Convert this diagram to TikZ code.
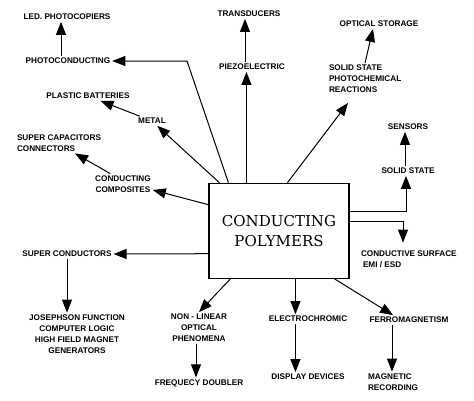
\documentclass[tikz,border=0pt]{standalone}
\usepackage{fontspec}
\newfontfamily\lblfont{Liberation Sans}
\newfontfamily\corefont{DejaVu Serif}
\usetikzlibrary{arrows.meta}

\begin{document}
\begin{tikzpicture}[x=1pt, y=-1pt, ->, >={Triangle[length=13pt,width=10pt]}, line width=1pt,
	lbl/.style={font=\lblfont\bfseries\fontsize{8.2}{11}\selectfont, align=center, inner sep=1.5pt},
	core/.style={draw, line width=1.1pt, minimum width=140pt, minimum height=95pt, inner sep=0pt, align=center, font=\corefont\fontsize{15}{20}\selectfont}]
		
		\useasboundingbox (0,0) rectangle (474,400);
		
		\node[core] (box) at (279,230.75) {CONDUCTING\\POLYMERS};
		
		\node[lbl] (led) at (67,17) {LED. PHOTOCOPIERS};
		\node[lbl] (photo) at (68,61) {PHOTOCONDUCTING};
		\node[lbl] (plastic) at (88,96) {PLASTIC BATTERIES};
		\node[lbl] (metal) at (152,121) {METAL};
		\node[lbl, align=left, anchor=west] (supcap) at (15,143) {SUPER CAPACITORS\\CONNECTORS};
		\node[lbl] (comp) at (123,184) {CONDUCTING\\COMPOSITES};
		\node[lbl] (supcond) at (67,254) {SUPER CONDUCTORS};
		\node[lbl] (joseph) at (77,334) {JOSEPHSON FUNCTION\\COMPUTER LOGIC\\HIGH FIELD MAGNET\\GENERATORS};
		\node[lbl] (nonlin) at (199,328) {NON - LINEAR\\OPTICAL\\PHENOMENA};
		\node[lbl] (freq) at (199,383) {FREQUECY DOUBLER};
		\node[lbl] (electro) at (308,319) {ELECTROCHROMIC};
		\node[lbl] (display) at (308,377) {DISPLAY DEVICES};
		\node[lbl] (ferro) at (409,320) {FERROMAGNETISM};
		\node[lbl, align=left, anchor=west] (magrec) at (366,382) {MAGNETIC\\RECORDING};
		\node[lbl, align=left, anchor=west] (surf) at (359,259) {CONDUCTIVE SURFACE\\\hspace{2pt}EMI / ESD};
		\node[lbl] (solid) at (408,171) {SOLID STATE};
		\node[lbl] (sensors) at (408,127) {SENSORS};
		\node[lbl, align=left, anchor=west] (chem) at (327,79) {SOLID STATE\\PHOTOCHEMICAL\\REACTIONS};
		\node[lbl] (optical) at (379,24) {OPTICAL STORAGE};
		\node[lbl] (piezo) at (252,67) {PIEZOELECTRIC};
		\node[lbl] (trans) at (249,14) {TRANSDUCERS};
		
		% left side
		\coordinate (kphoto) at (187,61);
		\draw ([xshift=20pt]box.north west) -- (kphoto) -- (photo.east);
		\path
		([xshift=-7pt]photo.north) edge ([xshift=-7pt]photo.north |- led.south)
		(metal) edge (plastic)
		([xshift=11pt]box.north west) edge (metal)
		([xshift=17pt]comp.north west) edge ([xshift=60pt]supcap.south west)
		([yshift=-22pt]box.north west) edge ([yshift=-6pt]comp.east)
		([yshift=-71pt]box.north west) edge (supcond.east)
		(supcond.south) edge (supcond.south |- joseph.north);
		
		% bottom
		\path
		([xshift=22pt]box.south west) edge (nonlin.north)
		([xshift=-3pt]nonlin.south) edge ([xshift=-3pt]freq.north)
		([xshift=87pt]box.south west) edge ([xshift=87pt]box.south west |- electro.north)
		([xshift=87pt]box.south west |- electro.south) edge ([xshift=87pt]box.south west |- display.north)
		([xshift=126pt]box.south west) edge ([xshift=-16pt]ferro.north)
		([xshift=-17pt]ferro.south) edge ([xshift=-17pt]ferro.south |- magrec.north);
		
		% right side
		\draw ([yshift=-29pt]box.north east) -| ([xshift=-2pt]solid.south);
		\draw[shorten >=6pt] ([yshift=-39pt]box.north east) -| ([xshift=44pt]surf.north west);
		\path
		([xshift=-3pt]solid.north) edge ([xshift=-3pt]sensors.south)
		([xshift=79pt]box.north west) edge ([xshift=21pt,yshift=-8pt]chem.south west)
		([xshift=38pt]chem.north west) edge ([xshift=-6pt]optical.south)
		([xshift=38pt]box.north west) edge ([xshift=38pt]box.north west |- piezo.south)
		([xshift=-7pt]piezo.north) edge ([xshift=-7pt]piezo.north |- trans.south);
		
\end{tikzpicture}
\end{document}
